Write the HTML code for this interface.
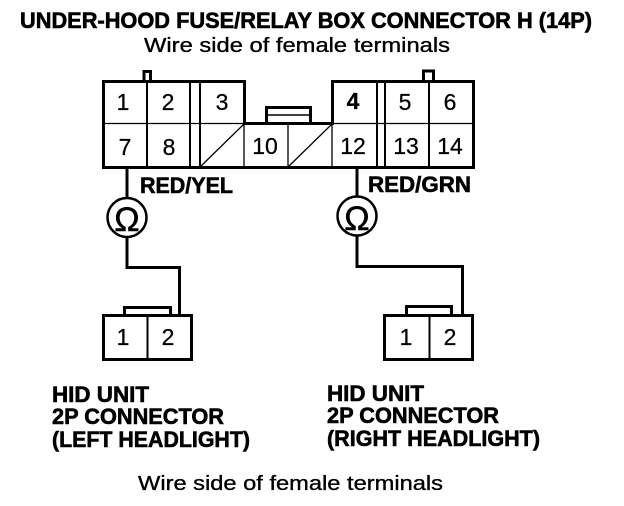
<!DOCTYPE html>
<html><head><meta charset="utf-8"><style>
html,body{margin:0;padding:0;background:#fff}
svg{display:block}
text{font-family:"Liberation Sans",sans-serif;fill:#000}
.b{font-weight:bold;font-size:22px;stroke:#000;stroke-width:.6px}
.r{font-size:20px;stroke:#000;stroke-width:.35px}
.n{font-size:23px;text-anchor:middle;stroke:#000;stroke-width:.25px}
.o{font-size:34px;text-anchor:middle;stroke:#000;stroke-width:.5px}
</style></head><body>
<svg width="624" height="506" viewBox="0 0 624 506" xmlns="http://www.w3.org/2000/svg">
<rect width="624" height="506" fill="#fff"/>
<text class="b" x="20" y="28" textLength="572" lengthAdjust="spacingAndGlyphs">UNDER-HOOD FUSE/RELAY BOX CONNECTOR H (14P)</text>
<text class="r" x="144" y="52" textLength="306" lengthAdjust="spacingAndGlyphs">Wire side of female terminals</text>
<g fill="none" stroke="#000" stroke-width="3">
<path d="M103.500 81.500H244.500V123.500H332.500V81.500H473.500V167.500H103.500Z"/>
<path d="M144 80V71.500H150.500V80M423.500 80V71H433.500V80"/>
<path d="M147 81V167M190 81V167M200 81V167M377 81V167M385 81V167M429 81V167" stroke-width="2"/>
<path d="M266.500 123V107.500H310.500V123" />
<path d="M267 115H310" stroke-width="1.500"/>
<path d="M127 167V198M127 237V267.500H179.500V315M357 167V197M357 236V266.500H462.500V315"/>
<circle cx="127" cy="217.500" r="19.500" stroke-width="2.500"/>
<circle cx="357" cy="216" r="19.500" stroke-width="2.500"/>
<rect x="103.500" y="315.500" width="88" height="44"/>
<rect x="384.500" y="315.500" width="88" height="44"/>
<path d="M124.500 315V307.500H170.500V315M406.500 315V306.500H451.500V315"/>
<path d="M147.500 315V360M429.500 315V360" stroke-width="2"/>
</g>
<g fill="none" stroke="#000" stroke-width="1.300">
<path d="M103 123.500H244M332 123.500H473M244 123V167M288 123V167M332 123V167M200 167L244 124M288 167L332 124"/>
</g>
<g>
<text class="n" x="123" y="110">1</text><text class="n" x="168" y="110">2</text><text class="n" x="222" y="110">3</text>
<text class="n" x="353" y="109" font-weight="bold">4</text><text class="n" x="405" y="110">5</text><text class="n" x="450" y="110">6</text>
<text class="n" x="125" y="155">7</text><text class="n" x="169" y="155">8</text><text class="n" x="265" y="154">10</text>
<text class="n" x="353" y="154">12</text><text class="n" x="406" y="154">13</text><text class="n" x="450" y="154">14</text>
<text class="n" x="123" y="345">1</text><text class="n" x="168" y="345">2</text>
<text class="n" x="406" y="345">1</text><text class="n" x="450" y="345">2</text>
<text class="o" x="127" y="231">Ω</text>
<text class="o" x="357" y="230">Ω</text>
</g>
<text class="b" x="140" y="193" textLength="93" lengthAdjust="spacingAndGlyphs">RED/YEL</text>
<text class="b" x="368" y="192" textLength="103" lengthAdjust="spacingAndGlyphs">RED/GRN</text>
<g>
<text class="b" x="52" y="402" textLength="97" lengthAdjust="spacingAndGlyphs">HID UNIT</text>
<text class="b" x="52" y="424" textLength="172" lengthAdjust="spacingAndGlyphs">2P CONNECTOR</text>
<text class="b" x="52" y="447" textLength="198" lengthAdjust="spacingAndGlyphs">(LEFT HEADLIGHT)</text>
<text class="b" x="327" y="401" textLength="97" lengthAdjust="spacingAndGlyphs">HID UNIT</text>
<text class="b" x="327" y="423" textLength="172" lengthAdjust="spacingAndGlyphs">2P CONNECTOR</text>
<text class="b" x="327" y="446" textLength="213" lengthAdjust="spacingAndGlyphs">(RIGHT HEADLIGHT)</text>
</g>
<text class="r" x="138" y="490" textLength="305" lengthAdjust="spacingAndGlyphs">Wire side of female terminals</text>
</svg>
</body></html>
